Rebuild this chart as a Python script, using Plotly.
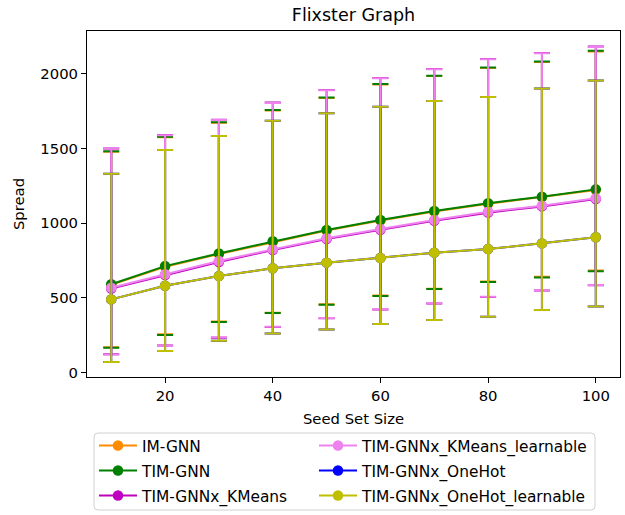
import plotly.graph_objects as go

seed_sizes = [10, 20, 30, 40, 50, 60, 70, 80, 90, 100]

series_names = ["IM-GNN", "TIM-GNN", "TIM-GNNx_KMeans", "TIM-GNNx_KMeans_learnable",
                "TIM-GNNx_OneHot", "TIM-GNNx_OneHot_learnable"]
series_colors = ["#ff8c00", "#008000", "#bf00bf", "#ee82ee", "#0000ff", "#bfbf00"]
legend_ids = ["legend", "legend", "legend", "legend2", "legend2", "legend2"]

# mean spread values
im_gnn_mean = [586, 707, 793, 874, 950, 1017, 1077, 1129, 1173, 1222]
tim_gnn_mean = [590, 712, 797, 878, 954, 1021, 1081, 1133, 1177, 1226]
kmeans_mean = [562, 652, 740, 819, 893, 955, 1016, 1070, 1112, 1161]
kmeans_l_mean = [567, 657, 746, 824, 898, 960, 1021, 1076, 1117, 1166]
onehot_mean = [489, 580, 645, 697, 735, 766, 802, 826, 864, 905]
onehot_l_mean = [489, 580, 645, 697, 735, 766, 802, 826, 864, 905]

# upper ends of error bars
im_gnn_hi = [1478, 1575, 1672, 1755, 1838, 1928, 1985, 2039, 2080, 2150]
tim_gnn_hi = [1481, 1578, 1676, 1758, 1841, 1932, 1988, 2042, 2083, 2154]
kmeans_hi = [1500, 1590, 1693, 1808, 1892, 1972, 2033, 2100, 2140, 2183]
kmeans_l_hi = [1499, 1588, 1690, 1805, 1890, 1970, 2031, 2098, 2138, 2180]
onehot_hi = [1330, 1490, 1584, 1686, 1736, 1780, 1818, 1845, 1901, 1955]
onehot_l_hi = [1330, 1490, 1584, 1686, 1736, 1780, 1818, 1845, 1901, 1955]

# lower ends of error bars
im_gnn_lo = [168, 256, 340, 400, 456, 515, 561, 608, 640, 682]
tim_gnn_lo = [165, 250, 337, 397, 453, 512, 558, 605, 636, 677]
kmeans_lo = [122, 180, 232, 304, 362, 422, 462, 505, 548, 583]
kmeans_l_lo = [120, 178, 235, 306, 364, 424, 464, 507, 550, 585]
onehot_lo = [69, 143, 212, 261, 288, 324, 351, 373, 418, 442]
onehot_l_lo = [69, 143, 212, 261, 288, 324, 351, 373, 418, 442]

means = [im_gnn_mean, tim_gnn_mean, kmeans_mean, kmeans_l_mean, onehot_mean, onehot_l_mean]
highs = [im_gnn_hi, tim_gnn_hi, kmeans_hi, kmeans_l_hi, onehot_hi, onehot_l_hi]
lows = [im_gnn_lo, tim_gnn_lo, kmeans_lo, kmeans_l_lo, onehot_lo, onehot_l_lo]

FONT = "DejaVu Sans"
FS = 14.8
LFS = 15.4

fig = go.Figure()
for name, color, m, hi, lo, lg in zip(series_names, series_colors, means, highs, lows, legend_ids):
    fig.add_trace(go.Scatter(
        x=seed_sizes, y=m, name=name, mode="lines+markers",
        line=dict(color=color, width=2),
        marker=dict(color=color, size=10.5, symbol="circle"),
        error_y=dict(type="data", symmetric=False,
                     array=[h - v for h, v in zip(hi, m)],
                     arrayminus=[v - l for l, v in zip(lo, m)],
                     color=color, thickness=2, width=8),
        legend=lg, legendgroup=name,
    ))

leg_common = dict(orientation="v", yanchor="top", xanchor="left",
                  bgcolor="rgba(0,0,0,0)", borderwidth=0,
                  font=dict(family=FONT, size=LFS, color="black"),
                  traceorder="grouped", tracegroupgap=2, itemwidth=38)

# legend frame (matplotlib-style rounded box), in paper coordinates
PW, PH = 533.0, 346.0
bx0, bx1 = (94 - 87) / PW, (595 - 87) / PW
by1, by0 = (377 - 433) / PH, (377 - 510) / PH
rx, ry = 4 / PW, 4 / PH
frame_path = (f"M{bx0 + rx},{by1} L{bx1 - rx},{by1} Q{bx1},{by1} {bx1},{by1 - ry} "
              f"L{bx1},{by0 + ry} Q{bx1},{by0} {bx1 - rx},{by0} "
              f"L{bx0 + rx},{by0} Q{bx0},{by0} {bx0},{by0 + ry} "
              f"L{bx0},{by1 - ry} Q{bx0},{by1} {bx0 + rx},{by1} Z")

fig.update_layout(
    width=625, height=515,
    margin=dict(l=87, r=5, t=31, b=138, autoexpand=False),
    paper_bgcolor="white", plot_bgcolor="white",
    font=dict(family=FONT, size=FS, color="black"),
    title=dict(text="Flixster Graph", x=0.5, xref="paper", xanchor="center",
               y=1 - 15 / 515, yref="container", yanchor="middle",
               font=dict(family=FONT, size=17.5, color="black")),
    showlegend=True,
    legend=dict(x=(94 - 87) / PW, y=(377 - 429) / PH, **leg_common),
    legend2=dict(x=(314 - 87) / PW, y=(377 - 429) / PH, **leg_common),
    shapes=[dict(type="path", xref="paper", yref="paper", path=frame_path,
                 line=dict(color="#d0d0d0", width=1), fillcolor="rgba(255,255,255,0.8)",
                 layer="below")],
)
fig.update_xaxes(range=[5.5, 104.5], tickvals=[20, 40, 60, 80, 100],
                 showgrid=False, zeroline=False,
                 showline=True, mirror=True, linecolor="black", linewidth=1,
                 ticks="outside", ticklen=5, tickcolor="black",
                 title=dict(text="Seed Set Size", standoff=10,
                            font=dict(family=FONT, size=FS, color="black")))
fig.update_yaxes(range=[-31, 2287], tickvals=[0, 500, 1000, 1500, 2000],
                 showgrid=False, zeroline=False,
                 showline=True, mirror=True, linecolor="black", linewidth=1,
                 ticks="outside", ticklen=5, tickcolor="black",
                 title=dict(text="Spread", standoff=12,
                            font=dict(family=FONT, size=FS, color="black")))

fig.write_html("out.html")
